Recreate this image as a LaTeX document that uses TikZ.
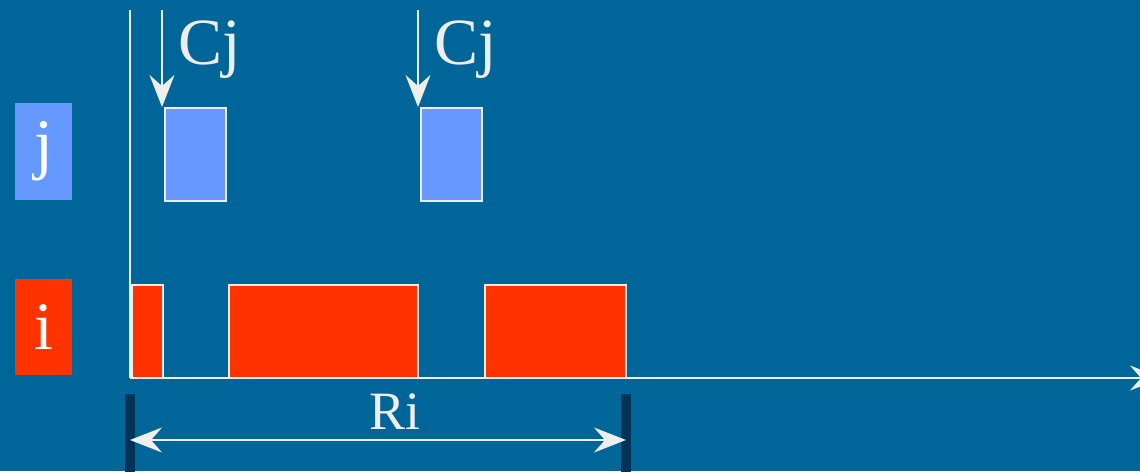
\documentclass[tikz,border=0pt]{standalone}
\usepackage{fontspec}
\setmainfont{Liberation Serif}
\usetikzlibrary{arrows.meta}
\definecolor{bgblue}{HTML}{006699}
\definecolor{jblue}{HTML}{6699FF}
\definecolor{ired}{HTML}{FF3300}
\definecolor{linec}{HTML}{EEEEEE}
\definecolor{barc}{HTML}{003355}
\tikzset{
  blk/.style={draw=linec, line width=2pt, inner sep=0pt, anchor=north west},
  tag/.style={inner sep=0pt, anchor=north west, text=white, font=\fontsize{68}{68}\selectfont},
  bar/.style={fill=barc, inner sep=0pt, minimum width=10pt, minimum height=92pt},
  lbl/.style={text=linec, font=\fontsize{66}{66}\selectfont, inner sep=0pt},
  axis/.style={draw=linec, line width=2pt},
  head/.tip={Stealth[length=32pt,width=25pt,inset=11pt]},
  tip/.style={-head},
}
\begin{document}
\begin{tikzpicture}[x=1pt,y=-1pt]
  \fill[bgblue] (0,0) rectangle (1140,471);
  \useasboundingbox (0,0) rectangle (1140,471);

  % task labels on the left
  \node[tag, fill=jblue, minimum width=57pt, minimum height=97pt] (tagj) at (15,103) {j};
  \node[tag, fill=ired, minimum width=57pt, minimum height=96pt] (tagi) at (15,279) {i};

  % axes
  \coordinate (origin) at (130,378);
  \coordinate (ytop) at (130,10);
  \coordinate (xend) at (1162,378);
  \draw[axis] (ytop) -- (origin);
  \draw[axis, tip] (origin) -- (xend);

  % executions of task j
  \node[blk, fill=jblue, minimum width=61pt, minimum height=93pt] (j1) at (164,107) {};
  \node[blk, fill=jblue, minimum width=61pt, minimum height=93pt] (j2) at (420,107) {};

  % executions of task i
  \node[blk, fill=ired, minimum width=31pt, minimum height=93pt] (i1) at (131,284) {};
  \node[blk, fill=ired, minimum width=189pt, minimum height=93pt] (i2) at (228,284) {};
  \node[blk, fill=ired, minimum width=141pt, minimum height=93pt] (i3) at (484,284) {};

  % releases of j
  \coordinate (r1) at (162,10);
  \coordinate (r2) at (418,10);
  \draw[axis, tip] (r1) -- (r1 |- j1.north);
  \draw[axis, tip] (r2) -- (r2 |- j2.north);
  \node[lbl, anchor=base west] (c1) at (178,64) {Cj};
  \node[lbl, anchor=base west] (c2) at (434,64) {Cj};

  % response time of i
  \node[bar] (bl) at (130,440) {};
  \node[bar] (br) at (626,440) {};
  \draw[axis, head-head] (bl.center) -- (br.center);
  \node[lbl, font=\fontsize{54}{54}\selectfont, anchor=base] (ri) at (395,429) {Ri};
\end{tikzpicture}
\end{document}
